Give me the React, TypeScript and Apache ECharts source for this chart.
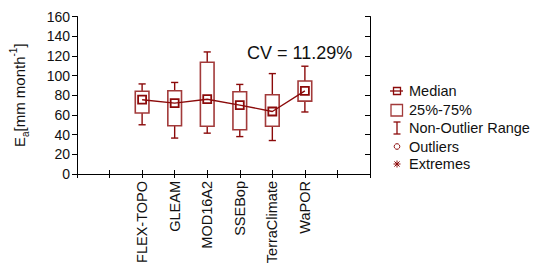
import React, { useEffect, useRef } from "react";
import * as echarts from "echarts";

const categories = ["", "", "FLEX-TOPO", "GLEAM", "MOD16A2", "SSEBop", "TerraClimate", "WaPOR", "", ""];
const models = ["FLEX-TOPO", "GLEAM", "MOD16A2", "SSEBop", "TerraClimate", "WaPOR"];
const mins = [50, 36.5, 41.5, 38, 34, 63];
const q1s = [62, 49, 48.5, 45, 48.5, 74];
const medians = [75.5, 72, 76, 70, 63.5, 84.5];
const q3s = [84, 84.5, 113.5, 83.5, 80.5, 94.5];
const maxs = [91.5, 93, 124, 91, 102, 109.5];
const yTicks = { min: 0, max: 160, interval: 20 };
const cvText = "CV = 11.29%";
const legendLabels = ["Median", "25%-75%", "Non-Outlier Range", "Outliers", "Extremes"];

const RED = "#8b0a0a";
const BOXRED = "#a23a3a";
const FONT = "'Liberation Sans', Arial, sans-serif";
const TXT = "#111";

export default function App() {
  const ref = useRef<HTMLDivElement>(null);
  useEffect(() => {
    if (!ref.current) return;
    const chart = echarts.init(ref.current, null, { renderer: "svg" });
    const boxData = models.map((m, i) => [m, mins[i], q1s[i], medians[i], q3s[i], maxs[i]]);
    const medData = models.map((m, i) => [m, medians[i]]);

    const lx = 397;
    const rows = [91, 110, 128, 146.5, 164];
    const legendGraphics: any[] = [
      { type: "line", shape: { x1: lx - 7, y1: rows[0], x2: lx + 6, y2: rows[0] }, style: { stroke: RED, lineWidth: 1.3 } },
      { type: "rect", shape: { x: lx - 3.5, y: rows[0] - 3.5, width: 7, height: 7 }, style: { fill: "none", stroke: RED, lineWidth: 1.3 } },
      { type: "rect", shape: { x: lx - 6, y: rows[1] - 5.5, width: 11.5, height: 11.5 }, style: { fill: "none", stroke: BOXRED, lineWidth: 1.3 } },
      { type: "line", shape: { x1: lx, y1: rows[2] - 6, x2: lx, y2: rows[2] + 6 }, style: { stroke: RED, lineWidth: 1.3 } },
      { type: "line", shape: { x1: lx - 3.5, y1: rows[2] - 6, x2: lx + 3.5, y2: rows[2] - 6 }, style: { stroke: RED, lineWidth: 1.3 } },
      { type: "line", shape: { x1: lx - 3.5, y1: rows[2] + 6, x2: lx + 3.5, y2: rows[2] + 6 }, style: { stroke: RED, lineWidth: 1.3 } },
      { type: "circle", shape: { cx: lx, cy: rows[3], r: 2.8 }, style: { fill: "none", stroke: RED, lineWidth: 1 } },
      { type: "line", shape: { x1: lx - 3.5, y1: rows[4], x2: lx + 3.5, y2: rows[4] }, style: { stroke: RED, lineWidth: 1 } },
      { type: "line", shape: { x1: lx, y1: rows[4] - 3.5, x2: lx, y2: rows[4] + 3.5 }, style: { stroke: RED, lineWidth: 1 } },
      { type: "line", shape: { x1: lx - 2.6, y1: rows[4] - 2.6, x2: lx + 2.6, y2: rows[4] + 2.6 }, style: { stroke: RED, lineWidth: 1 } },
      { type: "line", shape: { x1: lx - 2.6, y1: rows[4] + 2.6, x2: lx + 2.6, y2: rows[4] - 2.6 }, style: { stroke: RED, lineWidth: 1 } },
      ...legendLabels.map((t, i) => ({
        type: "text",
        x: 409,
        y: rows[i],
        style: { text: t, font: `14.5px ${FONT}`, fill: TXT, verticalAlign: "middle" },
      })),
      {
        type: "text",
        x: 247,
        y: 53,
        style: { text: cvText, font: `18px ${FONT}`, fill: TXT, verticalAlign: "middle" },
      },
    ];

    chart.setOption({
      animation: false,
      grid: { left: 73, right: 169, top: 16.5, bottom: 97, containLabel: false },
      xAxis: [
        {
          type: "category",
          data: categories,
          boundaryGap: false,
          axisLine: { lineStyle: { color: "#000", width: 1 } },
          axisTick: { inside: true, length: 4, lineStyle: { color: "#000" }, interval: 0 },
          axisLabel: { rotate: 90, interval: 0, fontSize: 14.5, fontFamily: FONT, color: TXT, margin: 7 },
          splitLine: { show: false },
        },
        {
          type: "category",
          data: categories,
          boundaryGap: false,
          position: "top",
          axisLine: { lineStyle: { color: "#000", width: 1 } },
          axisTick: { inside: true, length: 4, lineStyle: { color: "#000" }, interval: 0 },
          axisLabel: { show: false },
          splitLine: { show: false },
        },
      ],
      yAxis: [
        {
          type: "value",
          min: yTicks.min,
          max: yTicks.max,
          interval: yTicks.interval,
          axisLine: { show: true, lineStyle: { color: "#000", width: 1 } },
          axisTick: { show: true, inside: false, length: 5, lineStyle: { color: "#000" } },
          axisLabel: { fontSize: 14, fontFamily: FONT, color: TXT, margin: 7 },
          splitLine: { show: false },
          name: "{n|E}{sub|a}{n|[mm month}{sup|-1}{n|]}",
          nameLocation: "middle",
          nameGap: 47,
          nameRotate: 90,
          nameTextStyle: {
            fontFamily: FONT,
            color: TXT,
            fontSize: 15,
            rich: {
              n: { fontSize: 15, fontFamily: FONT, color: TXT, lineHeight: 22, verticalAlign: "middle" },
              sub: { fontSize: 10, fontFamily: FONT, color: TXT, verticalAlign: "bottom", lineHeight: 14 },
              sup: { fontSize: 10, fontFamily: FONT, color: TXT, verticalAlign: "top", lineHeight: 14 },
            },
          },
        },
        {
          type: "value",
          position: "right",
          min: yTicks.min,
          max: yTicks.max,
          interval: yTicks.interval,
          axisLine: { show: true, lineStyle: { color: "#000", width: 1 } },
          axisTick: { show: true, inside: true, length: 5, lineStyle: { color: "#000" } },
          axisLabel: { show: false },
          splitLine: { show: false },
        },
      ],
      series: [
        {
          type: "custom",
          xAxisIndex: 0,
          yAxisIndex: 0,
          encode: { x: 0, y: [1, 2, 3, 4, 5] },
          data: boxData,
          z: 2,
          renderItem: (params: any, api: any) => {
            const x = api.value(0);
            const lo = api.coord([x, api.value(1)]);
            const q1 = api.coord([x, api.value(2)]);
            const q3 = api.coord([x, api.value(4)]);
            const hi = api.coord([x, api.value(5)]);
            const band = api.size([1, 0])[0];
            const bw = band * 0.42;
            const cw = band * 0.22;
            const cx = q1[0];
            const ls = { stroke: RED, lineWidth: 1.4 };
            return {
              type: "group",
              children: [
                { type: "line", shape: { x1: cx, y1: hi[1], x2: cx, y2: q3[1] }, style: ls },
                { type: "line", shape: { x1: cx, y1: q1[1], x2: cx, y2: lo[1] }, style: ls },
                { type: "line", shape: { x1: cx - cw / 2, y1: hi[1], x2: cx + cw / 2, y2: hi[1] }, style: ls },
                { type: "line", shape: { x1: cx - cw / 2, y1: lo[1], x2: cx + cw / 2, y2: lo[1] }, style: ls },
                {
                  type: "rect",
                  shape: { x: cx - bw / 2, y: q3[1], width: bw, height: q1[1] - q3[1] },
                  style: { fill: "none", stroke: BOXRED, lineWidth: 1.6 },
                },
              ],
            };
          },
        },
        {
          type: "line",
          xAxisIndex: 0,
          yAxisIndex: 0,
          data: medData,
          z: 3,
          symbol: "rect",
          symbolSize: 8,
          showSymbol: true,
          lineStyle: { color: RED, width: 1.4 },
          itemStyle: { color: "rgba(255,255,255,0)", borderColor: RED, borderWidth: 1.8 },
        },
      ],
      graphic: legendGraphics,
    });
    return () => chart.dispose();
  }, []);
  return <div ref={ref} style={{ width: 539, height: 271, margin: -8 }} />;
}
